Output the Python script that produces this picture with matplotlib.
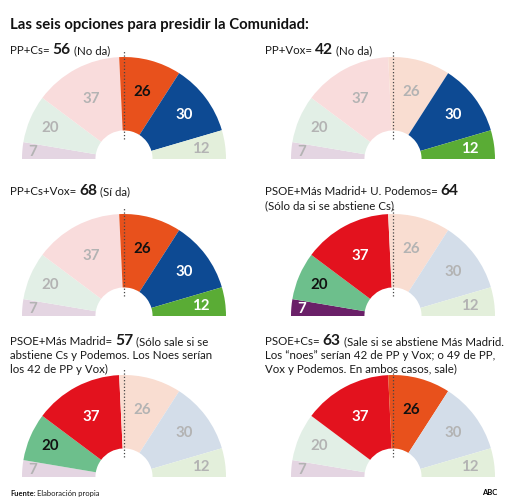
import numpy as np
import matplotlib
matplotlib.use("Agg")
import matplotlib.pyplot as plt
from matplotlib.patches import Wedge

FONT = ["Lato", "DejaVu Sans"]
plt.rcParams["font.family"] = FONT

# seats in the Asamblea de Madrid, left to right
parties = ["Podemos", "Más Madrid", "PSOE", "Cs", "PP", "Vox"]
seats = [7, 20, 37, 26, 30, 12]

# colours: full for the parties in the deal, pale for the rest
strong = ["#6a2068", "#6dbf8c", "#e3121e", "#e8511c", "#0d4a93", "#5aac35"]
pale = ["#e4d5e2", "#e2efe6", "#f9dcdc", "#f9ddd1", "#d3dde9", "#e3efdb"]
strong_txt = ["white", "#111111", "white", "#111111", "white", "white"]

# the six options
active = [
    ["Cs", "PP"],
    ["PP", "Vox"],
    ["Cs", "PP", "Vox"],
    ["Podemos", "Más Madrid", "PSOE"],
    ["Más Madrid", "PSOE"],
    ["PSOE", "Cs"],
]
titles = [
    [[("PP+Cs=", 0), ("56", 1), ("(No da)", 0)]],
    [[("PP+Vox=", 0), ("42", 1), ("(No da)", 0)]],
    [[("PP+Cs+Vox=", 0), ("68", 1), ("(Sí da)", 0)]],
    [[("PSOE+Más Madrid+ U. Podemos=", 0), ("64", 1)],
     [("(Sólo da si se abstiene Cs)", 0)]],
    [[("PSOE+Más Madrid=", 0), ("57", 1), ("(Sólo sale si se", 0)],
     [("abstiene Cs y Podemos. Los Noes serían", 0)],
     [("los 42 de PP y Vox)", 0)]],
    [[("PSOE+Cs=", 0), ("63", 1), ("(Sale si se abstiene Más Madrid.", 0)],
     [("Los “noes” serían 42 de PP y Vox; o 49 de PP,", 0)],
     [("Vox y Podemos. En ambos casos, sale)", 0)]],
]

W, H = 508, 502
fig = plt.figure(figsize=(W / 100, H / 100), dpi=100)
fig.patch.set_facecolor("white")

# panel geometry in pixels: centre x, base y, radius, text x, first text baseline
panels = [
    (124, 160, 102, 10, 54),
    (393, 160, 102, 265, 54),
    (124, 317, 102, 10, 195),
    (393, 317, 102, 265, 195),
    (124, 478, 102, 10, 345),
    (393, 478, 102, 265, 345),
]
label_r = [0.9, 0.79, 0.68, 0.69, 0.74, 0.76]
inner = 0.28

tax = fig.add_axes([0, 0, 1, 1])
tax.set_xlim(0, W)
tax.set_ylim(H, 0)
tax.axis("off")
tax.patch.set_visible(False)
rend = fig.canvas.get_renderer()


def rich(x, y, parts, size=8.3, big=1.35, gap=3):
    for s, b in parts:
        t = tax.text(x, y, s, fontsize=size * big if b == 1 else size,
                     fontweight="bold" if b else "normal",
                     va="baseline", ha="left", color="#1a1a1a")
        x += t.get_window_extent(rend).width + gap


total = sum(seats)
for k, (cx, by, R, tx, ty) in enumerate(panels):
    ax = fig.add_axes([(cx - 1.05 * R) / W, (H - by - 0.03 * R) / H,
                       2.1 * R / W, 1.13 * R / H])
    ax.set_xlim(-1.05, 1.05)
    ax.set_ylim(-0.03, 1.10)
    ax.axis("off")
    start = 180.0
    for i, p in enumerate(parties):
        span = seats[i] / total * 180
        on = p in active[k]
        ax.add_patch(Wedge((0, 0), 1, start - span, start, width=1 - inner,
                           facecolor=strong[i] if on else pale[i], edgecolor="none"))
        mid = np.radians(start - span / 2)
        ax.text(label_r[i] * np.cos(mid), label_r[i] * np.sin(mid), str(seats[i]),
                ha="center", va="center", fontsize=10.8, fontweight="bold",
                color=strong_txt[i] if on else "#b3b3b3")
        start -= span
    ax.plot([0, 0], [0.2, 1.06], ls=":", lw=0.9, color="#444444")
    for j, line in enumerate(titles[k]):
        rich(tx, ty + 14 * j, line)

tax.text(10, 29, "Las seis opciones para presidir la Comunidad:", fontsize=10.7,
         fontweight="bold", va="baseline", color="#111111")
rich(10, 496, [("Fuente:", 2), ("Elaboración propia", 0)], size=5.5, gap=1.5)
tax.text(490, 495, "ABC", fontsize=5.5, fontweight="bold", va="baseline", ha="center")

fig.savefig("out.png", dpi=100, facecolor="white")
